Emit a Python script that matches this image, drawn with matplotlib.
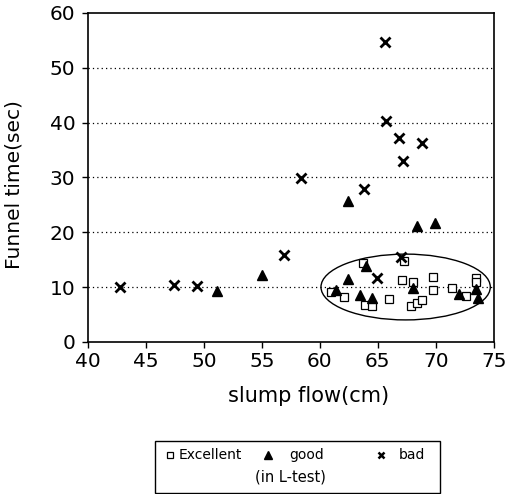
import numpy as np
import matplotlib.pyplot as plt
from matplotlib.patches import Ellipse, Rectangle
from matplotlib.lines import Line2D

plt.rcParams['font.family'] = ['DejaVu Sans']

# Excellent (open squares)
exc_x = [63.7, 67.3, 61.0, 62.1, 63.9, 64.5, 66.0, 67.1, 68.0, 67.9, 68.4, 68.8,
         69.8, 69.8, 71.4, 72.6, 73.5, 73.5]
exc_y = [14.3, 14.8, 9.0, 8.2, 6.8, 6.5, 7.8, 11.2, 10.9, 6.6, 7.1, 7.7,
         11.8, 9.5, 9.9, 8.3, 11.6, 10.9]

# good (filled triangles)
good_x = [51.1, 55.0, 62.4, 68.4, 69.9, 64.0, 62.4, 61.4, 63.5, 64.5, 68.0,
          72.0, 73.5, 73.6]
good_y = [9.2, 12.1, 25.6, 21.1, 21.6, 13.8, 11.5, 9.5, 8.6, 8.0, 9.8,
          8.7, 9.7, 8.0]

# bad (crosses)
bad_x = [42.8, 47.4, 49.4, 56.9, 58.4, 63.8, 65.6, 65.7, 66.8, 68.8, 67.2,
         67.0, 64.9]
bad_y = [10.0, 10.3, 10.2, 15.9, 29.9, 27.9, 54.7, 40.3, 37.2, 36.2, 32.9,
         15.4, 11.6]

xticks = [40, 45, 50, 55, 60, 65, 70, 75]
yticks = [0, 10, 20, 30, 40, 50, 60]
legend_labels = ['Excellent', 'good', 'bad']

fig = plt.figure(figsize=(5.08, 4.94), dpi=100)
ax = fig.add_axes([0.173, 0.308, 0.799, 0.666])

for yv in [10, 20, 30, 40, 50]:
    ax.axhline(yv, color='black', linestyle=(0, (1, 2.5)), linewidth=0.9, zorder=1)

ax.plot(exc_x, exc_y, linestyle='none', marker='s', markersize=5.5,
        markerfacecolor='white', markeredgecolor='black', markeredgewidth=0.9, zorder=3)
ax.plot(good_x, good_y, linestyle='none', marker='^', markersize=7,
        color='black', zorder=3)
ax.plot(bad_x, bad_y, linestyle='none', marker='x', markersize=6.5,
        color='black', markeredgewidth=2, zorder=3)

ax.add_patch(Ellipse((67.4, 10.0), 14.6, 12.0, fill=False, edgecolor='black',
                     linewidth=1.0, zorder=2))

ax.set_xlim(40, 75)
ax.set_ylim(0, 60)
ax.set_xticks(xticks)
ax.set_yticks(yticks)
ax.tick_params(labelsize=14.5, length=4, width=1, direction='out', pad=3)
ax.tick_params(axis='y', pad=5)
for s in ax.spines.values():
    s.set_linewidth(1.2)

ax.set_xlabel('slump flow(cm)', fontsize=15)
ax.xaxis.set_label_coords(0.544, -0.135)
ax.set_ylabel('Funnel time(sec)', fontsize=14.5)
ax.yaxis.set_label_coords(-0.158, 0.477)

# legend box with caption
fig.patches.append(Rectangle((155 / 508, 1 - 493 / 494), 285 / 508, 52 / 494,
                             transform=fig.transFigure, fill=False,
                             edgecolor='black', linewidth=1.0))
row_y = 1 - 455 / 494
fig.add_artist(Line2D([170 / 508], [row_y], transform=fig.transFigure, linestyle='none',
                      marker='s', markersize=5, markerfacecolor='white',
                      markeredgecolor='black', markeredgewidth=0.9))
fig.add_artist(Line2D([268 / 508], [row_y], transform=fig.transFigure, linestyle='none',
                      marker='^', markersize=6, color='black'))
fig.add_artist(Line2D([381 / 508], [row_y], transform=fig.transFigure, linestyle='none',
                      marker='x', markersize=5, color='black', markeredgewidth=1.8))
for xp, lab in zip([179, 289, 399], legend_labels):
    fig.text(xp / 508, row_y, lab, ha='left', va='center', fontsize=10)
fig.text(290 / 508, 1 - 477 / 494, '(in L-test)', ha='center', va='center', fontsize=10.5)

fig.savefig('out.png', dpi=100)
